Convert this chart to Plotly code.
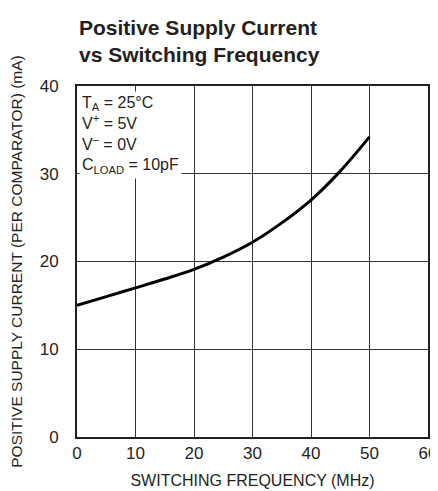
import plotly.graph_objects as go

freq_mhz = [0, 5, 10, 15, 20, 25, 30, 35, 40, 45, 50]
current_ma = [15.0, 16.0, 17.0, 18.0, 19.1, 20.5, 22.2, 24.4, 27.0, 30.3, 34.2]

x_ticks = [0, 10, 20, 30, 40, 50, 60]
y_ticks = [0, 10, 20, 30, 40]

FONT = "Liberation Sans Narrow, Liberation Sans, Arial"
INK = "#231f20"

fig = go.Figure()
fig.add_trace(go.Scatter(x=freq_mhz, y=current_ma, mode="lines",
                         line=dict(color="black", width=3, shape="spline", smoothing=1.0),
                         showlegend=False))

fig.update_layout(
    width=430, height=483,
    margin=dict(l=69, r=10, t=78, b=54),
    paper_bgcolor="white", plot_bgcolor="white",
    font=dict(family=FONT, color=INK, size=14),
    xaxis=dict(range=[0, 60], tickvals=x_ticks, showgrid=True, gridcolor="#333333",
               gridwidth=1, zeroline=False, showline=True, linecolor=INK,
               linewidth=2, mirror=True, ticks="", tickfont=dict(size=17),
               ticklabelstandoff=0, automargin=False, ticklabeloverflow="allow",
               title=dict(text="SWITCHING FREQUENCY (MHz)", font=dict(size=16), standoff=12)),
    yaxis=dict(range=[0, 40], tickvals=y_ticks, showgrid=True, gridcolor="#333333",
               gridwidth=1, zeroline=False, showline=True, linecolor=INK,
               linewidth=2, mirror=True, ticks="", tickfont=dict(size=17),
               ticklabelstandoff=13, automargin=False,
               title=dict(text="POSITIVE SUPPLY CURRENT (PER COMPARATOR) (mA)",
                          font=dict(size=15.5), standoff=24)),
)

fig.add_annotation(
    text="<b>Positive Supply Current<br>vs Switching Frequency</b>",
    xref="paper", yref="paper", x=0, y=1, xanchor="left", yanchor="bottom",
    yshift=18, align="left", showarrow=False,
    font=dict(size=21, family=FONT, color=INK))

fig.add_annotation(
    text="T<sub>A</sub> = 25°C<br>V<sup>+</sup> = 5V<br>V<sup>–</sup> = 0V<br>C<sub>LOAD</sub> = 10pF",
    xref="paper", yref="paper", x=0.005, y=0.985, xanchor="left", yanchor="top",
    align="left", showarrow=False, bgcolor="white", borderpad=2,
    font=dict(size=16, family=FONT, color=INK))

fig.write_html("out.html")
